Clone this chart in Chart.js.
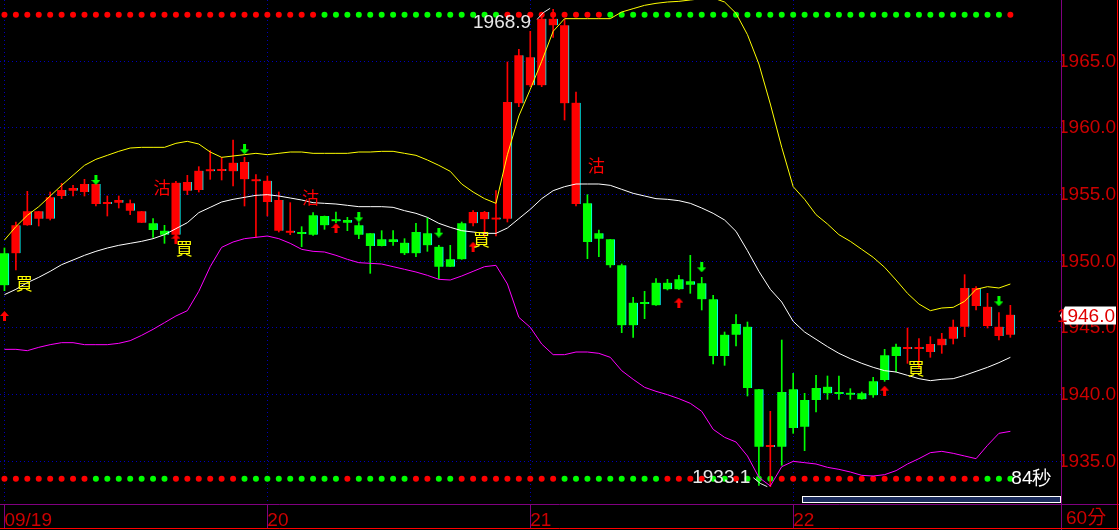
<!DOCTYPE html>
<html>
<head>
<meta charset="utf-8">
<script src="https://cdn.jsdelivr.net/npm/chart.js@4.4.1/dist/chart.umd.min.js"></script>
<style>
  html, body { margin: 0; padding: 0; background: #000; overflow: hidden; }
</style>
</head>
<body>
<canvas id="goldChart" width="1119" height="530"></canvas>
<script>
// 60 min candles, 09/19 - 09/22
const candleOpen = [
  1950.6, 1950.6, 1952.7, 1953.2, 1953.2, 1954.9, 1955.3, 1955.2, 1954.3, 1954.3,
  1954.4, 1953.8, 1952.9, 1952.85, 1952.3, 1952.0, 1955.3, 1955.35, 1956.75, 1956.78,
  1956.75, 1956.15, 1956.0, 1954.45, 1952.3, 1952.15, 1952.1, 1953.45, 1953.4, 1953.15,
  1953.1, 1952.7, 1952.1, 1951.65, 1951.65, 1951.4, 1952.2, 1952.1, 1951.1, 1950.15,
  1952.85, 1952.85, 1953.15, 1953.13, 1953.2, 1961.85, 1963.2, 1963.2, 1967.7, 1961.85,
  1954.3, 1954.35, 1952.1, 1951.65, 1949.7, 1946.9, 1946.85, 1948.4, 1948.4, 1948.65,
  1948.5, 1948.35, 1947.15, 1944.5, 1945.3, 1945.1, 1940.4, 1936.08, 1940.2, 1940.4,
  1939.6, 1940.5, 1940.6, 1940.1, 1940.15, 1940.1, 1941.0, 1942.95, 1943.6, 1943.43,
  1943.43, 1943.2, 1943.7, 1944.2, 1945.1, 1946.65, 1945.15, 1944.4, 1944.5
];
const candleHigh = [
  1951.0, 1952.95, 1955.25, 1953.75, 1955.2, 1955.85, 1955.7, 1956.15, 1955.8, 1954.9,
  1954.9, 1954.6, 1953.75, 1953.2, 1952.7, 1956.0, 1956.45, 1957.1, 1958.3, 1957.8,
  1959.1, 1957.8, 1956.5, 1956.4, 1955.2, 1954.4, 1952.6, 1953.65, 1953.4, 1953.7,
  1953.3, 1952.9, 1952.1, 1952.3, 1952.3, 1951.7, 1952.85, 1953.25, 1951.2, 1951.2,
  1952.95, 1953.8, 1953.75, 1955.3, 1964.95, 1965.9, 1967.25, 1968.3, 1968.9, 1968.15,
  1962.7, 1955.0, 1952.35, 1951.65, 1949.8, 1947.3, 1947.75, 1948.7, 1948.65, 1948.95,
  1950.45, 1948.8, 1947.45, 1944.7, 1946.0, 1945.45, 1940.4, 1938.75, 1944.1, 1941.6,
  1940.1, 1941.45, 1941.4, 1941.4, 1940.45, 1940.2, 1941.3, 1943.4, 1943.8, 1945.0,
  1944.2, 1944.35, 1944.6, 1945.6, 1949.0, 1948.1, 1947.6, 1946.15, 1946.7
];
const candleLow = [
  1947.8, 1949.35, 1952.7, 1952.65, 1953.1, 1954.7, 1954.9, 1954.9, 1954.15, 1953.4,
  1954.0, 1953.5, 1952.9, 1951.8, 1951.35, 1951.9, 1955.0, 1955.2, 1956.15, 1956.1,
  1955.65, 1954.15, 1951.8, 1953.4, 1952.2, 1952.0, 1951.1, 1951.95, 1952.4, 1952.9,
  1952.3, 1951.7, 1949.1, 1951.15, 1951.2, 1950.5, 1950.35, 1950.75, 1948.7, 1949.6,
  1950.15, 1952.65, 1951.8, 1951.9, 1952.95, 1961.6, 1963.1, 1963.1, 1966.8, 1960.6,
  1954.15, 1950.2, 1950.35, 1949.55, 1944.65, 1944.3, 1945.7, 1946.7, 1947.85, 1947.9,
  1947.6, 1946.35, 1942.3, 1942.2, 1943.65, 1939.9, 1933.2, 1933.1, 1934.7, 1937.1,
  1935.8, 1938.7, 1939.65, 1939.65, 1939.65, 1939.65, 1939.8, 1941.0, 1941.7, 1942.35,
  1942.0, 1942.8, 1943.1, 1943.8, 1944.35, 1946.35, 1945.0, 1944.1, 1944.3
];
const candleClose = [
  1948.2, 1952.7, 1953.75, 1953.75, 1954.8, 1955.35, 1955.5, 1955.8, 1955.8, 1954.45,
  1954.6, 1954.35, 1953.75, 1952.35, 1952.0, 1955.9, 1955.95, 1956.8, 1956.8, 1956.82,
  1957.4, 1957.45, 1956.05, 1956.05, 1954.6, 1952.2, 1952.05, 1952.0, 1952.7, 1953.0,
  1952.9, 1952.0, 1951.15, 1951.15, 1951.45, 1950.6, 1950.6, 1951.2, 1949.6, 1949.6,
  1950.15, 1953.7, 1953.7, 1953.17, 1961.95, 1965.45, 1965.3, 1968.2, 1968.2, 1967.7,
  1961.9, 1951.45, 1951.7, 1949.7, 1945.2, 1945.2, 1946.8, 1946.7, 1947.9, 1947.9,
  1948.25, 1947.15, 1942.9, 1942.9, 1944.5, 1940.5, 1936.1, 1936.12, 1936.1, 1937.5,
  1937.6, 1939.6, 1940.1, 1940.05, 1940.0, 1939.65, 1939.95, 1941.1, 1942.9, 1943.47,
  1943.47, 1943.8, 1944.2, 1945.1, 1948.0, 1948.0, 1946.6, 1945.1, 1946.0
];

// bollinger bands
const bandUpper = [
  1951.6, 1952.6, 1953.45, 1954.1, 1954.9, 1955.7, 1956.45, 1957.2, 1957.65, 1957.95,
  1958.25, 1958.5, 1958.55, 1958.55, 1958.55, 1958.85, 1959.0, 1958.8, 1958.2, 1957.8,
  1957.9, 1958.0, 1958.1, 1958.0, 1958.1, 1958.2, 1958.2, 1958.1, 1958.1, 1958.1,
  1958.1, 1958.2, 1958.2, 1958.25, 1958.25, 1958.1, 1957.95, 1957.6, 1957.2, 1956.75,
  1955.8, 1955.2, 1954.7, 1954.35, 1958.0, 1960.9, 1962.9, 1965.0, 1967.25, 1968.2,
  1968.2, 1968.2, 1968.2, 1968.2, 1968.7, 1968.95, 1969.2, 1969.35, 1969.45, 1969.5,
  1969.6, 1969.7, 1969.75, 1969.45, 1968.6, 1967.0, 1964.8, 1961.8, 1958.55, 1955.6,
  1954.65, 1953.5, 1952.8, 1952.0, 1951.5, 1950.9, 1950.3, 1949.55, 1948.6, 1947.6,
  1946.8, 1946.3, 1946.5, 1946.55, 1947.0, 1947.9, 1948.1, 1948.0, 1948.3
];
const bandMiddle = [
  1947.5, 1947.9, 1948.4, 1948.8, 1949.25, 1949.75, 1950.1, 1950.45, 1950.75, 1951.0,
  1951.2, 1951.35, 1951.5, 1951.7, 1952.0, 1952.45, 1952.9, 1953.65, 1954.05, 1954.45,
  1954.65, 1954.8, 1954.95, 1955.0, 1954.9, 1954.75, 1954.6, 1954.4, 1954.35, 1954.3,
  1954.2, 1954.1, 1954.1, 1954.1, 1954.05, 1953.8, 1953.6, 1953.3, 1952.85, 1952.55,
  1952.3, 1952.2, 1952.1, 1952.1, 1952.5, 1953.2, 1953.9, 1954.7, 1955.3, 1955.6,
  1955.8, 1955.8, 1955.8, 1955.7, 1955.4, 1955.1, 1954.9, 1954.7, 1954.65, 1954.55,
  1954.35, 1954.0, 1953.6, 1953.1, 1952.25, 1950.8, 1949.25, 1947.9, 1946.95, 1945.5,
  1944.7, 1944.15, 1943.6, 1943.1, 1942.7, 1942.35, 1942.05, 1941.8, 1941.7, 1941.45,
  1941.2, 1941.05, 1941.15, 1941.2, 1941.45, 1941.75, 1942.05, 1942.4, 1942.8
];
const bandLower = [
  1943.4, 1943.4, 1943.3, 1943.55, 1943.75, 1943.9, 1943.9, 1943.75, 1943.75, 1943.75,
  1943.85, 1944.05, 1944.45, 1944.9, 1945.4, 1945.9, 1946.3, 1947.75, 1949.6, 1951.05,
  1951.45, 1951.7, 1951.8, 1951.9, 1951.7, 1951.35, 1950.9, 1950.75, 1950.7, 1950.45,
  1950.15, 1949.9, 1949.85, 1949.8, 1949.6, 1949.4, 1949.2, 1948.95, 1948.65, 1948.6,
  1948.9, 1949.25, 1949.6, 1949.7, 1948.3, 1945.8, 1945.05, 1943.8, 1943.0, 1943.0,
  1943.2, 1943.2, 1943.1, 1942.8, 1941.8, 1941.15, 1940.55, 1940.25, 1940.0, 1939.7,
  1939.35, 1938.75, 1937.4, 1936.8, 1936.45, 1935.4, 1933.8, 1933.15, 1934.6, 1935.0,
  1934.9, 1934.8, 1934.55, 1934.4, 1934.2, 1933.95, 1933.9, 1934.0, 1934.3, 1934.8,
  1935.2, 1935.65, 1935.75, 1935.6, 1935.4, 1935.2, 1936.2, 1937.1, 1937.25
];

const dayStarts = [0, 23, 46, 69];
const dayLabels = ["09/19", "20", "21", "22"];
const priceTicks = [1935, 1940, 1945, 1950, 1955, 1960, 1965];
const priceMin = 1931.8;
const priceMax = 1969.6;

// signal strips, one dot per candle (R / G)
const topSignal = "RRRRRRRRRR RRRRRRRRRR RRRRRRRRGG GGGGGGGGGG GGGGRRRRRR RRRGGGGGGG GGGGGGGGGG GGGGGGGGGG GGGGGGGGR"
  .replace(/ /g, "").split("");
const bottomSignal = "RRRRRRRRGG GGGGGRRRRR RGGGGGGGGG RGGGGGRRGG RRRRRRRRRG GGGGGGGGRR RRGGRGGGRR RRRRRRRRRR RRRRRRGGG"
  .replace(/ /g, "").split("");
const topSignalLevel = 1968.5;
const bottomSignalLevel = 1933.7;

const upArrowIdx = [0, 15, 29, 41, 59, 77];
const upArrowVal = [1945.9, 1951.7, 1952.5, 1951.1, 1946.9, 1940.3];
const downArrowIdx = [8, 21, 31, 38, 61, 87];
const downArrowVal = [1956.1, 1958.4, 1953.3, 1952.15, 1949.55, 1947.0];
const buyTextIdx = [2, 16, 42, 80];
const buyTextVal = [1948.3, 1950.98, 1951.65, 1941.98];
const sellTextIdx = [15, 28, 53];
const sellTextVal = [1955.5, 1954.8, 1957.2];

const timeframeLabel = "60分";
const countdownLabel = "84秒";

const RED = "#ff0000";
const GREEN = "#00ff00";
const AXIS_RED = "#cc0000";
const PURPLE = "#800080";
const GRID_BLUE = "#0000b8";

Chart.defaults.font.family = "'Liberation Sans', Arial, sans-serif";

function makeArrow(color, pointUp) {
  const c = document.createElement("canvas");
  c.width = 9;
  c.height = 10;
  const g = c.getContext("2d");
  g.fillStyle = color;
  g.beginPath();
  if (pointUp) {
    g.moveTo(4.5, 0); g.lineTo(9, 5); g.lineTo(0, 5);
    g.fill();
    g.fillRect(3, 5, 3, 5);
  } else {
    g.fillRect(3, 0, 3, 5);
    g.moveTo(0, 5); g.lineTo(9, 5); g.lineTo(4.5, 10);
    g.fill();
  }
  return c;
}

const candleColors = candleOpen.map((o, i) => (candleClose[i] >= o ? RED : GREEN));

const overlayPlugin = {
  id: "overlay",
  afterDatasetsDraw(chart) {
    const { ctx } = chart;
    const x = chart.scales.x;
    const y = chart.scales.y;
    ctx.save();
    ctx.textAlign = "center";
    ctx.textBaseline = "middle";
    ctx.font = "17px 'Noto Sans CJK TC'";
    ctx.fillStyle = "#ffff00";
    buyTextIdx.forEach((idx, k) => {
      ctx.fillText("買", x.getPixelForValue(idx) - 3, y.getPixelForValue(buyTextVal[k]));
    });
    ctx.fillStyle = RED;
    sellTextIdx.forEach((idx, k) => {
      ctx.fillText("沽", x.getPixelForValue(idx) - 14, y.getPixelForValue(sellTextVal[k]));
    });

    // highest high / lowest low labels
    const hi = Math.max(...candleHigh);
    const lo = Math.min(...candleLow);
    const hx = x.getPixelForValue(candleHigh.indexOf(hi));
    const hy = y.getPixelForValue(hi);
    const lx = x.getPixelForValue(candleLow.indexOf(lo));
    const ly = y.getPixelForValue(lo);
    ctx.font = "19px 'Liberation Sans'";
    ctx.fillStyle = "#e8e8e8";
    ctx.strokeStyle = "#e8e8e8";
    ctx.lineWidth = 1;
    ctx.textAlign = "right";
    ctx.fillText(hi.toFixed(1), hx - 22, hy + 13);
    ctx.fillText(lo.toFixed(1), lx - 20, ly - 9);
    ctx.beginPath();
    ctx.moveTo(hx - 16, hy + 10);
    ctx.quadraticCurveTo(hx - 10, hy + 2, hx - 3, hy - 1);
    ctx.moveTo(lx - 17, ly - 9);
    ctx.quadraticCurveTo(lx - 10, ly - 2, lx - 3, ly);
    ctx.stroke();

    ctx.textAlign = "left";
    ctx.fillStyle = "#ffffff";
    ctx.fillText(countdownLabel, x.getPixelForValue(candleClose.length - 1) + 1, y.getPixelForValue(bottomSignalLevel));
    ctx.restore();
  },
  afterDraw(chart) {
    const { ctx, chartArea, width, height } = chart;
    const y = chart.scales.y;
    ctx.save();
    // scroll bar
    ctx.fillStyle = "#1c2c5c";
    ctx.fillRect(803, chartArea.bottom - 7, chartArea.right - 804, 5);
    ctx.strokeStyle = "#ffffff";
    ctx.lineWidth = 1;
    ctx.strokeRect(802.5, chartArea.bottom - 7.5, chartArea.right - 803, 6);

    // frame
    ctx.strokeStyle = PURPLE;
    ctx.beginPath();
    ctx.moveTo(0, chartArea.bottom + 0.5);
    ctx.lineTo(width, chartArea.bottom + 0.5);
    ctx.moveTo(chartArea.right + 0.5, 0);
    ctx.lineTo(chartArea.right + 0.5, height);
    ctx.stroke();
    ctx.strokeStyle = RED;
    ctx.beginPath();
    ctx.moveTo(0, height - 1.5);
    ctx.lineTo(width, height - 1.5);
    ctx.moveTo(width - 1.5, 0);
    ctx.lineTo(width - 1.5, height);
    ctx.stroke();

    ctx.font = "19px 'Liberation Sans', 'Noto Sans CJK TC'";
    ctx.fillStyle = AXIS_RED;
    ctx.textBaseline = "middle";
    ctx.textAlign = "left";
    ctx.fillText(timeframeLabel, chartArea.right + 5, chartArea.bottom + 15);

    // last price tag
    const last = candleClose[candleClose.length - 1];
    const ty = Math.round(y.getPixelForValue(last)) + 0.5;
    ctx.fillStyle = "#ffffff";
    ctx.beginPath();
    ctx.moveTo(chartArea.right - 1, ty);
    ctx.lineTo(chartArea.right + 4, ty - 9);
    ctx.lineTo(width - 3, ty - 9);
    ctx.lineTo(width - 3, ty + 9);
    ctx.lineTo(chartArea.right + 4, ty + 9);
    ctx.closePath();
    ctx.fill();
    ctx.fillStyle = "#e00000";
    ctx.textAlign = "right";
    ctx.fillText(last.toFixed(1), width - 4, ty + 1);
    ctx.restore();
  }
};

const ctx = document.getElementById("goldChart");
new Chart(ctx, {
  type: "bar",
  data: {
    datasets: [
      {
        type: "scatter",
        data: topSignal.map((s, i) => ({ x: i, y: topSignalLevel })),
        pointBackgroundColor: topSignal.map((s) => (s === "R" ? RED : GREEN)),
        pointBorderWidth: 0,
        pointRadius: 3,
        order: 6
      },
      {
        type: "scatter",
        data: bottomSignal.map((s, i) => ({ x: i, y: bottomSignalLevel })),
        pointBackgroundColor: bottomSignal.map((s) => (s === "R" ? RED : GREEN)),
        pointBorderWidth: 0,
        pointRadius: 3,
        order: 6
      },
      {
        label: "wick",
        data: candleLow.map((l, i) => ({ x: i, y: [l, candleHigh[i]] })),
        backgroundColor: candleColors,
        barThickness: 1,
        minBarLength: 1,
        grouped: false,
        order: 5
      },
      {
        label: "body",
        data: candleOpen.map((o, i) => ({ x: i, y: [o, candleClose[i]] })),
        backgroundColor: candleColors,
        borderColor: "#00ffff",
        borderWidth: { left: 0, top: 0, bottom: 0, right: 1 },
        borderSkipped: false,
        barThickness: 9,
        minBarLength: 2,
        grouped: false,
        order: 4
      },
      {
        type: "line",
        data: bandUpper.map((v, i) => ({ x: i, y: v })),
        borderColor: "#ffff00",
        borderWidth: 1,
        pointRadius: 0,
        order: 3
      },
      {
        type: "line",
        data: bandMiddle.map((v, i) => ({ x: i, y: v })),
        borderColor: "#ffffff",
        borderWidth: 1,
        pointRadius: 0,
        order: 3
      },
      {
        type: "line",
        data: bandLower.map((v, i) => ({ x: i, y: v })),
        borderColor: "#ff00ff",
        borderWidth: 1,
        pointRadius: 0,
        order: 3
      },
      {
        type: "scatter",
        data: upArrowIdx.map((v, k) => ({ x: v, y: upArrowVal[k] })),
        pointStyle: makeArrow(RED, true),
        pointRadius: 5,
        order: 1
      },
      {
        type: "scatter",
        data: downArrowIdx.map((v, k) => ({ x: v, y: downArrowVal[k] })),
        pointStyle: makeArrow(GREEN, false),
        pointRadius: 5,
        order: 1
      }
    ]
  },
  options: {
    responsive: false,
    animation: false,
    events: [],
    layout: { padding: 0, autoPadding: false },
    plugins: {
      legend: { display: false },
      tooltip: { enabled: false }
    },
    scales: {
      x: {
        type: "linear",
        min: -0.39,
        max: 92.43,
        offset: false,
        afterBuildTicks: (scale) => {
          scale.ticks = dayStarts.map((v) => ({ value: v }));
        },
        afterFit: (scale) => {
          scale.height = 26;
          scale.paddingLeft = 0;
          scale.paddingRight = 0;
        },
        ticks: {
          autoSkip: false,
          maxRotation: 0,
          align: "start",
          padding: -19,
          color: AXIS_RED,
          font: { size: 19 },
          callback: (value, index) => dayLabels[index]
        },
        grid: {
          offset: false,
          color: GRID_BLUE,
          lineWidth: 1,
          drawTicks: true,
          tickLength: 24,
          tickColor: PURPLE,
          tickWidth: 1
        },
        border: { display: false, dash: [1, 3] }
      },
      y: {
        position: "right",
        min: priceMin,
        max: priceMax,
        afterBuildTicks: (scale) => {
          scale.ticks = priceTicks.map((v) => ({ value: v }));
        },
        afterFit: (scale) => {
          scale.width = 58;
          scale.paddingTop = 0;
          scale.paddingBottom = 0;
        },
        ticks: {
          padding: -3,
          color: AXIS_RED,
          font: { size: 19 },
          callback: (value) => Number(value).toFixed(1)
        },
        grid: {
          color: GRID_BLUE,
          lineWidth: 1,
          drawTicks: false
        },
        border: { display: false, dash: [1, 3] }
      }
    }
  },
  plugins: [overlayPlugin]
});
</script>
</body>
</html>
